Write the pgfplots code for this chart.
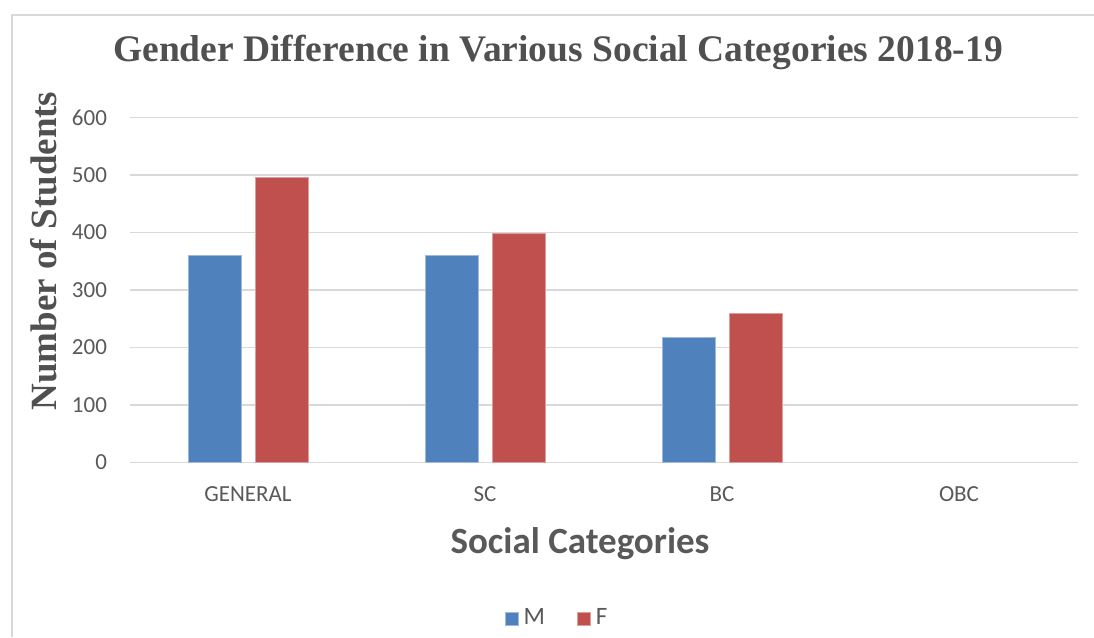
\documentclass[border=0pt]{standalone}
\usepackage{pgfplots}
\pgfplotsset{compat=1.18}
\usepackage{fontspec}
\setmainfont{Carlito}
\newfontfamily\titlefont{Liberation Serif}

\definecolor{mblue}{RGB}{79,129,189}
\definecolor{fred}{RGB}{192,80,77}
\definecolor{gridgray}{RGB}{217,217,217}
\definecolor{txtgray}{RGB}{89,89,89}
\definecolor{darkgray}{RGB}{80,80,80}

\begin{document}
\begin{tikzpicture}
  \useasboundingbox (0pt,0pt) rectangle (1094pt,637pt);
  % outer chart frame
  \draw[gridgray, line width=1.5pt] (12pt,0pt) -- (12pt,622pt) -- (1094pt,622pt);

  \begin{axis}[
    at={(129.5pt,174.5pt)}, anchor=south west,
    scale only axis, width=948pt, height=345pt,
    xmin=-0.5, xmax=3.5, ymin=0, ymax=600,
    ybar=14pt, bar width=53pt,
    xtick={0,1,2,3},
    xticklabels={GENERAL,SC,BC,OBC},
    ytick={0,100,...,600},
    ymajorgrids, major grid style={gridgray, line width=1.5pt},
    axis line style={draw=none},
    major tick length=0pt,
    tick label style={font=\fontsize{23}{26}\selectfont, text=txtgray},
    /pgf/number format/assume math mode=true,
    yticklabel style={xshift=-19pt},
    xticklabel style={yshift=-21pt},
    legend columns=2,
    legend style={at={(0.451,-0.448)}, anchor=center, draw=none, fill=none,
      font=\fontsize{25}{28}\selectfont, text=txtgray,
      /tikz/every odd column/.append style={column sep=3pt},
      /tikz/every even column/.append style={column sep=30pt}},
    legend image code/.code={\fill[#1] (0pt,-8pt) rectangle (13pt,5pt);},
  ]
    % OBC has no students in either series
    \addplot[fill=mblue, draw=mblue!55!white, line width=0.8pt] coordinates {
      (0,360) (1,360) (2,217)
    };
    \addplot[fill=fred, draw=fred!55!white, line width=0.8pt] coordinates {
      (0,496) (1,398) (2,259)
    };
    \legend{M,F}
  \end{axis}

  \node[font=\titlefont\bfseries\fontsize{37.5}{40}\selectfont, text=darkgray, anchor=base]
    at (558pt,575pt) {Gender Difference in Various Social Categories 2018-19};
  \node[font=\titlefont\bfseries\fontsize{37}{40}\selectfont, text=darkgray, rotate=90, anchor=base]
    at (56pt,386pt) {Number of Students};
  \node[font=\bfseries\fontsize{37}{40}\selectfont, text=txtgray, anchor=base]
    at (580pt,84pt) {Social Categories};
\end{tikzpicture}
\end{document}
